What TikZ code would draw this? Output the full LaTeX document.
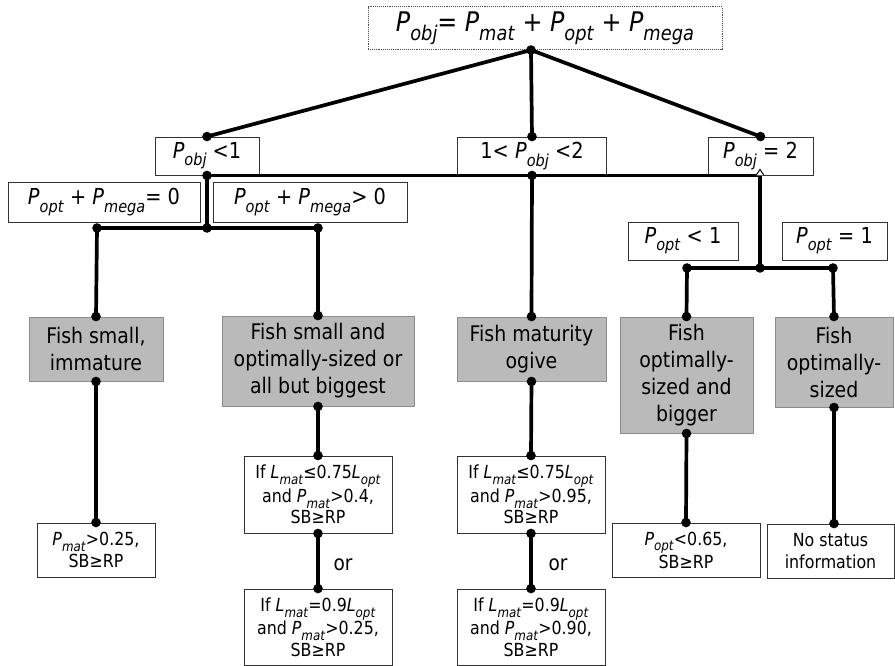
\documentclass[tikz,border=0pt]{standalone}
\usepackage{fontspec}
\usepackage{graphicx}
\setmainfont{DejaVu Sans}[FakeStretch=0.88]
\usetikzlibrary{arrows.meta,calc}
\newcommand\vs[2]{\textit{#1}\raisebox{-0.33em}{\scalebox{0.75}{\textit{#2}}}}
\newcommand\jdot[1]{\fill (#1) circle (4.8pt);}
\tikzset{
  box/.style={draw=black!80, line width=0.9pt, fill=white, inner sep=0pt, align=center},
  lbl/.style={box, font={\fontsize{22}{25}\selectfont}, minimum height=38pt},
  gbox/.style={draw=black!45, line width=0.9pt, fill=black!27, inner sep=0pt, align=center,
    font={\fontsize{21.5}{27}\selectfont}},
  sbox/.style={box, font={\fontsize{18}{21.5}\selectfont}},
  conn/.style={line width=3.7pt},
}
\begin{document}
\begin{tikzpicture}[x=1pt,y=-1pt]
\useasboundingbox (0,0) rectangle (895,666);
% top
\node[box, draw=black!70, densely dotted, line width=1pt, minimum width=354pt, minimum height=43pt,
  font={\fontsize{27}{30}\selectfont}] (top) at (545,28.5)
  {\vs{P}{obj}= \vs{P}{mat} + \vs{P}{opt} + \vs{P}{mega}};
\coordinate (t0) at (531,50);
% row 2
\node[lbl, minimum width=104pt] (p1) at (207,156) {\vs{P}{obj} <1};
\node[lbl, minimum width=149pt] (p2) at (532,156) {1< \vs{P}{obj} <2};
\node[lbl, minimum width=105pt] (p3) at (760.5,156) {\vs{P}{obj} = 2};
% row 3
\node[lbl, minimum width=192pt, minimum height=40pt] (q0) at (104,202) {\vs{P}{opt} + \vs{P}{mega}= 0};
\node[lbl, minimum width=194pt, minimum height=40pt] (q1) at (310,202) {\vs{P}{opt} + \vs{P}{mega}> 0};
\node[lbl, minimum width=110pt] (r0) at (683,241) {\vs{P}{opt} < 1};
\node[lbl, minimum width=105pt] (r1) at (834.5,241) {\vs{P}{opt} = 1};
\coordinate (j1) at (207,228);
\coordinate (d0) at (97,228);
\coordinate (d1) at (318,228);
\coordinate (j3) at (760,268);
\coordinate (e0) at (687,268);
\coordinate (e1) at (833,268);
% gray boxes
\node[gbox, minimum width=134pt, minimum height=64pt] (g1) at (96,349) {Fish small,\\immature};
\node[gbox, minimum width=192pt, minimum height=90pt] (g2) at (318,361) {Fish small and\\optimally-sized or\\all but biggest};
\node[gbox, minimum width=149pt, minimum height=64pt] (g3) at (531.5,349) {Fish maturity\\ogive};
\node[gbox, minimum width=133pt, minimum height=116pt] (g4) at (686.5,375) {Fish\\optimally-\\sized and\\bigger};
\node[gbox, minimum width=118pt, minimum height=90pt] (g5) at (834,362) {Fish\\optimally-\\sized};
% bottom boxes
\node[sbox, minimum width=118pt, minimum height=54pt] (b1) at (96,550) {\vs{P}{mat}>0.25,\\SB≥RP};
\node[sbox, minimum width=148pt, minimum height=77pt] (b2a) at (318,494.5) {If \vs{L}{mat}≤0.75\vs{L}{opt}\\and \vs{P}{mat}>0.4,\\SB≥RP};
\node[sbox, minimum width=148pt, minimum height=76pt] (b2b) at (318,627) {If \vs{L}{mat}=0.9\vs{L}{opt}\\and \vs{P}{mat}>0.25,\\SB≥RP};
\node[sbox, minimum width=148pt, minimum height=77pt] (b3a) at (531,494.5) {If \vs{L}{mat}≤0.75\vs{L}{opt}\\and \vs{P}{mat}>0.95,\\SB≥RP};
\node[sbox, minimum width=148pt, minimum height=76pt] (b3b) at (531,627) {If \vs{L}{mat}=0.9\vs{L}{opt}\\and \vs{P}{mat}>0.90,\\SB≥RP};
\node[sbox, minimum width=148pt, minimum height=54pt] (b4) at (686,550) {\vs{P}{opt}<0.65,\\SB≥RP};
\node[sbox, minimum width=127pt, minimum height=54pt] (b5) at (830.5,551) {No status\\information};
\node[font={\fontsize{21}{24}\selectfont}] (or1) at (343,565) {or};
\node[font={\fontsize{21}{24}\selectfont}] (or2) at (558,565) {or};
% connectors
\draw[conn] (t0) -- (p1.north);
\draw[conn] (t0) -- (p2.north);
\draw[conn] (t0) -- (p3.north);
\draw[conn] (p1.south) -- (p3.south -| j3);
\draw[conn] (p1.south) -- (j1);
\draw[conn] (d0) -- (d1);
\draw[conn] (d0) -- (g1.north);
\draw[conn] (d1) -- (g2.north);
\draw[conn] (p2.south) -- (g3.north);
\draw[conn] (j3) -- (p3.south -| j3);
\draw[line width=1pt, fill=white] ($(p3.south -| j3)+(-4,0)$) -- ($(p3.south -| j3)+(0,-6)$) -- ($(p3.south -| j3)+(4,0)$);
\draw[conn] (e0) -- (e1);
\draw[conn] (e0) -- (g4.north);
\draw[conn] (e1) -- (g5.north);
\draw[conn] (g1.south) -- (b1.north);
\draw[conn] (g2.south) -- (b2a.north);
\draw[conn] (b2a.south) -- (b2b.north);
\draw[conn] (g3.south) -- (b3a.north);
\draw[conn] (b3a.south) -- (b3b.north);
\draw[conn] (g4.south) -- (b4.north);
\draw[conn] (g5.south) -- (g5.south |- b5.north);
% dots
\foreach \c in {t0,p1.north,p2.north,p3.north,p1.south,p2.south,j1,d0,d1,j3,e0,e1,
  g1.north,g1.south,g2.north,g2.south,g3.north,g3.south,g4.north,g4.south,g5.north,g5.south,
  b1.north,b2a.north,b2a.south,b2b.north,b3a.north,b3a.south,b3b.north,b4.north}
  {\jdot{\c}}
\fill (g5.south |- b5.north) circle (4.8pt);
\end{tikzpicture}
\end{document}
